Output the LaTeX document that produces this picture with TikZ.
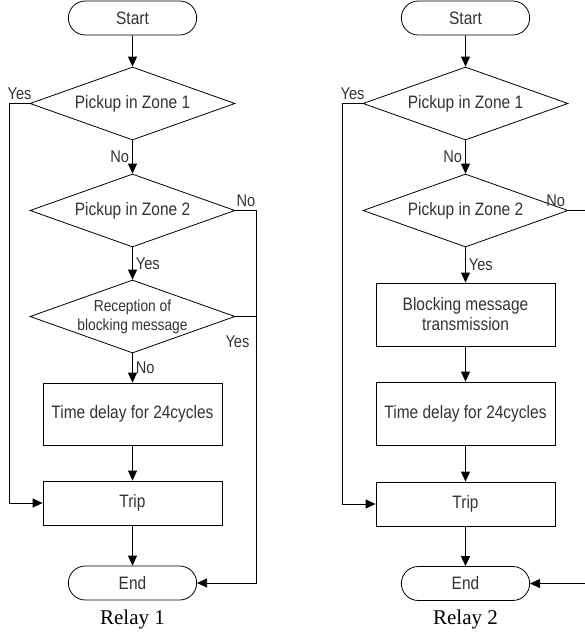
\documentclass[tikz,border=0pt]{standalone}
\usepackage{fontspec}
\setmainfont{Liberation Sans}[FakeStretch=0.86]
\newfontfamily\relayfont{Liberation Serif}
\usepackage{tikz}
\usetikzlibrary{shapes.geometric,shapes.misc,arrows.meta,positioning}

\begin{document}
\begin{tikzpicture}[x=1pt, y=-1pt, >={Triangle[length=10pt,width=9pt]}, line width=0.8pt]
    % Define styles
    \tikzstyle{terminal} = [rounded rectangle, draw, minimum width=135pt, minimum height=34pt, text=black!80, font=\fontsize{18}{20}\selectfont]
    \tikzstyle{decision} = [diamond, draw, aspect=2.8, minimum width=205pt, minimum height=73pt, inner sep=-6pt, text=black!80, font=\fontsize{18}{20}\selectfont]
    \tikzstyle{process} = [rectangle, draw, minimum width=179pt, inner sep=2pt, align=center, text=black!80, font=\fontsize{18}{20}\selectfont]
    \tikzstyle{line} = [draw, ->]
    \tikzstyle{answer} = [text=black!80, inner sep=3pt, font=\fontsize{17}{19}\selectfont]
    \tikzstyle{caption} = [font=\relayfont\fontsize{21}{23}\selectfont]

    \useasboundingbox (0,0) rectangle (585,634);

    % Relay 1 (left column)
    \node [terminal] (starta) at (132.5,18) {Start};
    \node [decision] (z1a) at (132.5,103.5) {Pickup in Zone 1};
    \node [decision] (z2a) at (132.5,210.5) {Pickup in Zone 2};
    \node [decision, font=\fontsize{16}{19}\selectfont, align=center] (recva) at (132.5,316.5) {Reception of\\blocking message};
    \node [process, minimum height=62pt] (delaya) at (132.5,414) {Time delay for 24cycles};
    \node [process, minimum height=44pt] (tripa) at (132.5,503) {Trip};
    \node [terminal] (enda) at (132.5,583) {End};
    \node [caption] (relay1) at (132.5,619) {Relay 1};

    \draw [line] (starta) -- (z1a);
    \draw [line] (z1a) -- node [answer, left] {No} (z2a);
    \draw [line] (z2a) -- node [answer, right] {Yes} (recva);
    \draw [line] (recva) -- node [answer, right] {No} (delaya);
    \draw [line] (delaya) -- (tripa);
    \draw [line] (tripa) -- (enda);
    % Yes from zone 1 straight to trip
    \draw [line] (z1a.west) -- node [answer, above] {Yes} ++(-20,0) |- (tripa.west);
    % No from zone 2 and Yes from reception go to end
    \draw [line] (z2a.east) -- node [answer, above] {No} ++(21,0) |- (enda.east);
    \draw (recva.east) -- node [answer, below, pos=0.1, yshift=-16pt] {Yes} ++(21,0);

    % Relay 2 (right column)
    \node [terminal] (startb) at (465.5,18) {Start};
    \node [decision] (z1b) at (465.5,103.5) {Pickup in Zone 1};
    \node [decision] (z2b) at (465.5,210.5) {Pickup in Zone 2};
    \node [process, minimum height=63pt] (blockb) at (465.5,314.5) {Blocking message\\transmission};
    \node [process, minimum height=63pt] (delayb) at (465.5,413.5) {Time delay for 24cycles};
    \node [process, minimum height=44pt] (tripb) at (465.5,504) {Trip};
    \node [terminal] (endb) at (465.5,583.5) {End};
    \node [caption] (relay2) at (465.5,619) {Relay 2};
    \coordinate (edgeb1) at (585,210.5);
    \coordinate (edgeb2) at (585,583.5);

    \draw [line] (startb) -- (z1b);
    \draw [line] (z1b) -- node [answer, left] {No} (z2b);
    \draw [line] (z2b) -- node [answer, right] {Yes} (blockb);
    \draw [line] (blockb) -- (delayb);
    \draw [line] (delayb) -- (tripb);
    \draw [line] (tripb) -- (endb);
    \draw [line] (z1b.west) -- node [answer, above] {Yes} ++(-20,0) |- (tripb.west);
    % No from zone 2 leaves the picture, comes back into end
    \draw (z2b.east) -- node [answer, above left, pos=0] {No} (edgeb1);
    \draw [line] (edgeb2) -- (endb);
\end{tikzpicture}
\end{document}
